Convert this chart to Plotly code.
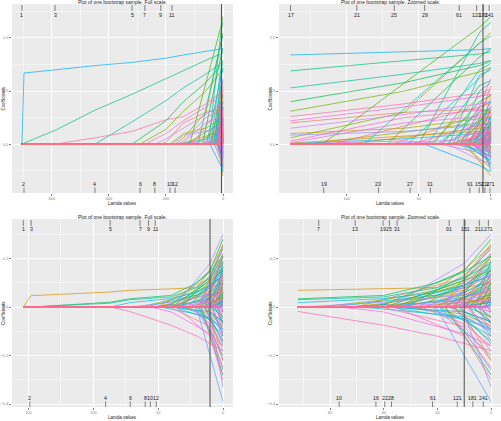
import math
import plotly.graph_objects as go

N_VARS = 280  # number of candidate coefficients (colour = variable index)

# ================= TOP ROW : bootstrap sample A =================
top_lambda_max = 705
top_zoom_cut = 139
top_lambda_min = 5.5
top_grid = [698, 589, 449, 319, 200, 139, 60, 8, 0]

top_long_entry = [705, 705, 589, 449, 319, 291, 274, 239, 218, 186, 179, 168, 160, 152, 147, 143, 141]
top_long_var = [170, 112, 262, 122, 100, 75, 240, 215, 5, 45, 195, 68, 250, 225, 20, 150, 230]
top_long_vals = [
    [0.67, 0.70, 0.74, 0.77, 0.81, 0.84, 0.87, 0.89, 0.90],
    [0.01, 0.13, 0.32, 0.47, 0.62, 0.69, 0.79, 0.85, 0.87],
    [0, 0, 0.06, 0.12, 0.23, 0.26, 0.38, 0.48, 0.52],
    [0, 0, 0, 0.21, 0.41, 0.53, 0.66, 0.76, 0.79],
    [0, 0, 0, 0, 0.22, 0.40, 0.58, 0.74, 0.78],
    [0, 0, 0, 0, 0.14, 0.31, 0.50, 0.68, 0.72],
    [0, 0, 0, 0, 0.10, 0.22, 0.35, 0.45, 0.47],
    [0, 0, 0, 0, 0.05, 0.15, 0.28, 0.38, 0.40],
    [0, 0, 0, 0, 0.02, 0.20, 0.30, 0.33, 0.31],
    [0, 0, 0, 0, 0, 0.10, 0.15, 0.24, 0.26],
    [0, 0, 0, 0, 0, 0.085, 0.12, 0.18, 0.20],
    [0, 0, 0, 0, 0, 0.06, 0.30, 0.95, 1.05],
    [0, 0, 0, 0, 0, 0.03, 0.25, 0.32, 0.30],
    [0, 0, 0, 0, 0, 0.015, 0.20, 0.26, 0.25],
    [0, 0, 0, 0, 0, 0.01, 0.08, 0.12, 0.10],
    [0, 0, 0, 0, 0, 0.005, 0.05, 0.10, 0.12],
    [0, 0, 0, 0, 0, 0.002, 0.03, -0.02, -0.05],
]

top_mid_knot = 8
top_mid_entry = [128, 117, 110, 100, 88, 80, 72, 68, 58, 56, 50, 46, 44, 42, 40,
                 38, 37, 35, 34, 33, 31, 30, 29, 28, 27, 26, 25, 24, 23, 22]
top_mid_v8 = [0.20, 1.10, 0.35, 0.15, 0.95, 0.05, 0.82, 0.28, 0.62, 0.18, 1.05, -0.20, 0.70, 0.45, 0.55,
              0.12, 0.30, -0.08, 0.40, 0.05, 0.22, -0.15, 0.65, 0.08, 0.35, -0.05, 0.18, 0.50, 0.10, 0.25]
top_mid_v0 = [0.24, 1.20, 0.38, 0.16, 1.02, 0.02, 0.90, 0.30, 0.72, 0.20, 1.15, -0.26, 0.76, 0.50, 0.60,
              0.10, 0.34, -0.12, 0.46, 0.06, 0.25, -0.18, 0.70, 0.08, 0.40, -0.08, 0.20, 0.58, 0.12, 0.30]
top_mid_var = [58, 85, 270, 30, 130, 205, 95, 12, 140, 258, 115, 180, 125, 40, 105,
               245, 135, 200, 90, 16, 155, 220, 145, 275, 110, 190, 60, 128, 235, 150]

top_short_entry = [21.6, 21.1, 20.9, 20.4, 19.8, 19.6, 19.3, 18.9, 18.7, 18.2, 17.8, 17.5, 17.1,
                   16.8, 16.4, 16.0, 15.9, 15.5, 15.2, 14.8, 14.5, 14.1, 13.8, 13.5, 13.0, 12.8,
                   12.4, 12.1, 11.9, 11.6, 11.3, 10.8, 10.5, 10.2, 9.9, 9.8, 9.3, 9.0, 8.9,
                   8.5, 8.3, 8.1, 7.7, 7.4, 7.2, 6.9, 6.7, 6.5, 6.3, 6.1, 5.9, 5.8,
                   5.5, 5.3, 5.2, 4.9, 4.7, 4.6, 4.4, 4.3, 4.1, 3.8, 3.7, 3.5, 3.2,
                   3.1, 2.9, 2.6, 2.5, 2.3, 2.1, 2.0, 1.8, 1.6, 1.5, 1.3, 1.1, 1.0,
                   0.9, 0.7, 0.6, 0.5]
top_short_v0 = [0.48, -0.22, 0.15, 0.35, 0.12, -0.11, -0.15, 0.21, 0.62, 0.05, 0.07, 0.28, -0.30,
                -0.17, 0.18, 0.33, 0.40, 0.01, -0.08, 0.22, -0.07, 0.55, 0.19, -0.12, 0.10, 0.11,
                0.32, -0.13, -0.20, 0.25, 0.15, 0.02, 0.04, 0.45, -0.21, -0.05, 0.26, 0.13, -0.18,
                0.08, 0.06, 0.36, -0.10, -0.08, 0.20, 0.04, 0.17, -0.25, -0.03, 0.14, 0.10, 0.30,
                -0.06, 0.22, 0.09, 0.24, -0.06, -0.14, 0.06, 0.05, 0.18, -0.03, 0.14, 0.12, -0.09,
                -0.05, 0.16, 0.03, 0.09, -0.12, 0.03, 0.07, 0.11, -0.03, -0.04, 0.05, 0.08, 0.06,
                -0.02, 0.04, 0.01, 0.02]
top_short_var = [3, 47, 260, 88, 133, 120, 177, 14, 222, 266, 190, 8, 52,
                 81, 97, 268, 141, 144, 186, 230, 237, 272, 101, 17, 61, 55,
                 106, 213, 152, 163, 195, 239, 28, 25, 251, 70, 114, 92, 159,
                 203, 172, 248, 34, 118, 78, 123, 209, 167, 31, 212, 278, 256,
                 42, 137, 87, 131, 192, 176, 221, 73, 265, 7, 242, 51, 96,
                 11, 142, 185, 158, 229, 226, 274, 22, 99, 66, 111, 156, 181,
                 199, 244, 44, 35]

# number-of-nonzero-coefficient labels (alternating top / bottom)
top_full_df = [1, 2, 3, 4, 5, 6, 7, 8, 9, 10, 11, 12]
top_full_lam = [705, 698, 589, 449, 319, 291, 274, 239, 218, 186, 179, 168]
top_zoom_df = [17, 19, 21, 23, 25, 27, 29, 31, 61, 91, 121, 151, 181, 211, 241, 271]
top_zoom_lam = [139, 116, 93, 78, 67, 56, 46, 42, 22, 14.6, 9.9, 8.1, 5.3, 4.2, 1.2, 0.6]

# ================= BOTTOM ROW : bootstrap sample B =================
bot_lambda_max = 154
bot_zoom_cut = 72
bot_lambda_min = 10
bot_grid = [148, 87, 72, 40, 20, 10, 0]

bot_long_entry = [154, 149, 148, 90.5, 87, 71.5, 64, 60, 57.4, 56, 52.3, 51.5]
bot_long_var = [28, 100, 120, 160, 255, 200, 70, 135, 10, 240, 50, 180]
bot_long_vals = [
    [0.047, 0.062, 0.069, 0.075, 0.08, 0.155, 0.25],
    [0, 0.020, 0.034, 0.048, 0.10, 0.145, 0.21],
    [0, 0.016, 0.030, 0.042, 0.08, 0.12, 0.18],
    [0, 0, 0.018, 0.035, 0.06, 0.09, 0.13],
    [0, 0, -0.018, -0.075, -0.12, -0.15, -0.18],
    [0, 0, 0, 0.02, 0.04, 0.05, 0.06],
    [0, 0, 0, 0.03, 0.07, 0.11, 0.15],
    [0, 0, 0, 0.025, 0.05, 0.09, 0.13],
    [0, 0, 0, 0.01, 0.02, 0.03, 0.02],
    [0, 0, 0, -0.02, -0.08, -0.11, -0.16],
    [0, 0, 0, 0.015, 0.05, 0.08, 0.10],
    [0, 0, 0, 0.01, -0.02, -0.05, -0.09],
]

bot_mid_knot = 10
bot_mid_entry = [50.6, 48, 45, 42.9, 41.8, 41, 40.2, 39.9, 39.6, 38.8, 38.2, 37.9, 37.5, 37.1,
                 36.5, 35.8, 35, 33.5, 32, 30.5, 29, 27.5, 26, 24.8, 23.5, 22.5, 21.8]
bot_mid_v10 = [0.12, -0.04, 0.09, 0.03, 0.15, -0.08, 0.06, 0.02, 0.11, -0.02, 0.07, 0.18, -0.05, 0.04,
               0.10, -0.12, 0.08, 0.05, 0.13, -0.03, 0.02, 0.09, -0.07, 0.06, 0.01, 0.04, -0.10]
bot_mid_v0 = [0.20, -0.10, 0.16, 0.05, 0.28, -0.22, 0.12, 0.03, 0.22, -0.06, 0.14, 0.30, -0.14, 0.08,
              0.19, -0.30, 0.15, 0.10, 0.24, -0.08, 0.04, 0.17, -0.16, 0.11, 0.0, 0.07, -0.26]
bot_mid_var = [12, 148, 66, 188, 104, 262, 30, 222, 94, 170, 44, 205, 140, 158,
               82, 250, 138, 56, 110, 60, 20, 126, 244, 164, 208, 74, 190]

bot_short_entry = [20.5, 20.1, 19.8, 19.4, 19.1, 18.7, 18.3, 17.9, 17.6, 17.2, 16.8, 16.5, 16.1,
                   15.7, 15.4, 15.0, 14.7, 14.3, 14.0, 13.7, 13.4, 13.1, 12.8, 12.4, 12.1, 11.8,
                   11.5, 11.2, 10.9, 10.6, 10.3, 10.0, 9.7, 9.4, 9.1, 8.8, 8.6, 8.3, 8.0,
                   7.8, 7.5, 7.2, 7.0, 6.8, 6.5, 6.2, 6.0, 5.8, 5.6, 5.3, 5.1, 4.7,
                   4.5, 4.3, 3.9, 3.7, 3.5, 3.1, 2.9, 2.7, 2.4, 2.2, 2.0, 1.7, 1.5,
                   1.4, 1.1, 0.8, 0.5]
bot_short_v0 = [-0.39, 0.14, 0.18, -0.20, -0.12, 0.26, 0.09, 0.07, 0.25, -0.28, -0.25, 0.17, 0.04,
                -0.10, -0.06, 0.11, 0.13, 0.22, -0.18, -0.15, 0.21, 0.05, 0.02, 0.15, -0.09, -0.22,
                0.11, 0.09, -0.33, 0.02, 0.06, -0.08, 0.16, 0.13, -0.04, 0.06, 0.08, -0.12, -0.14,
                0.10, 0.03, 0.04, 0.12, -0.06, -0.07, 0.08, 0.19, 0.14, -0.02, -0.04, 0.05, -0.11,
                0.05, 0.10, 0.01, -0.07, -0.05, 0.07, 0.03, -0.03, 0.04, 0.04, 0.06, -0.01, -0.02,
                0.03, -0.02, 0.02, 0.01]
bot_short_var = [186, 230, 220, 160, 122, 45, 98, 270, 210, 90, 272, 140, 48,
                 200, 84, 26, 262, 252, 266, 118, 88, 64, 176, 166, 130, 14,
                 246, 218, 196, 102, 24, 248, 108, 134, 96, 80, 62, 180, 228,
                 4, 6, 260, 274, 128, 150, 42, 124, 224, 212, 112, 36, 246,
                 154, 92, 178, 8, 218, 58, 238, 206, 146, 72, 76, 234, 198,
                 172, 264, 16, 192]

bot_full_df = [1, 2, 3, 4, 5, 6, 7, 8, 9, 10, 11, 12]
bot_full_lam = [154, 149, 148, 90.5, 87, 71.5, 64, 60, 57.4, 56, 52.3, 51.5]
bot_zoom_df = [7, 10, 13, 16, 19, 22, 25, 28, 31, 61, 91, 121, 151, 181, 211, 241, 271]
bot_zoom_lam = [64.2, 56.6, 50.6, 42.9, 40.2, 39.6, 37.9, 37.1, 35, 21.8, 15.6, 12.6, 9.7, 6.8, 4.4, 2.9, 1.0]

for a, b in [(top_long_entry, top_long_var), (top_long_entry, top_long_vals),
             (top_mid_entry, top_mid_v8), (top_mid_entry, top_mid_v0), (top_mid_entry, top_mid_var),
             (top_short_entry, top_short_v0), (top_short_entry, top_short_var),
             (bot_long_entry, bot_long_var), (bot_long_entry, bot_long_vals),
             (bot_mid_entry, bot_mid_v10), (bot_mid_entry, bot_mid_v0), (bot_mid_entry, bot_mid_var),
             (bot_short_entry, bot_short_v0), (bot_short_entry, bot_short_var)]:
    assert len(a) == len(b), (len(a), len(b))


# ---------------- colours (ggplot2 hue palette) ----------------
def hcl_hex(h, c=100.0, l=65.0):
    hr = math.radians(h)
    U, V = c * math.cos(hr), c * math.sin(hr)
    Xn, Yn, Zn = 95.047, 100.0, 108.883
    un = 4 * Xn / (Xn + 15 * Yn + 3 * Zn)
    vn = 9 * Yn / (Xn + 15 * Yn + 3 * Zn)
    Y = Yn * ((l + 16) / 116) ** 3
    up = U / (13 * l) + un
    vp = V / (13 * l) + vn
    X = Y * 9 * up / (4 * vp)
    Z = Y * (12 - 3 * up - 20 * vp) / (4 * vp)
    X, Y, Z = X / 100, Y / 100, Z / 100
    r = 3.2404542 * X - 1.5371385 * Y - 0.4985314 * Z
    g = -0.9692660 * X + 1.8760108 * Y + 0.0415560 * Z
    b = 0.0556434 * X - 0.2040259 * Y + 1.0572252 * Z

    def gam(t):
        t = max(0.0, min(1.0, t))
        return 12.92 * t if t <= 0.0031308 else 1.055 * t ** (1 / 2.4) - 0.055
    return '#%02x%02x%02x' % tuple(int(round(255 * gam(t))) for t in (r, g, b))


def var_color(v):
    return hcl_hex(15 + 360 * (v - 1) / N_VARS)


# ---------------- path construction ----------------
def build_paths(lmax, grid, long_entry, long_var, long_vals,
                mid_knot, mid_entry, mid_vmid, mid_v0, mid_var,
                short_entry, short_v0, short_var):
    paths = []
    for e, v, vals in zip(long_entry, long_var, long_vals):
        xs, ys = [lmax, e], [0, 0]
        for g, y in zip(grid, vals):
            if g < e:
                xs.append(g)
                ys.append(y)
        paths.append((v, e, xs, ys))
    for e, m, z, v in zip(mid_entry, mid_vmid, mid_v0, mid_var):
        paths.append((v, e, [lmax, e, mid_knot, 0], [0, 0, m, z]))
    for e, z, v in zip(short_entry, short_v0, short_var):
        paths.append((v, e, [lmax, e, 0], [0, 0, z]))
    paths.sort(key=lambda p: p[0])
    return paths


def zoom_path(entry, xs, ys, cut):
    if entry > cut:
        pts = [(x, y) for x, y in zip(xs, ys) if x <= cut]
        return [p[0] for p in pts], [p[1] for p in pts]
    return [cut] + xs[1:], ys[:]


top_paths = build_paths(top_lambda_max, top_grid, top_long_entry, top_long_var, top_long_vals,
                        top_mid_knot, top_mid_entry, top_mid_v8, top_mid_v0, top_mid_var,
                        top_short_entry, top_short_v0, top_short_var)
bot_paths = build_paths(bot_lambda_max, bot_grid, bot_long_entry, bot_long_var, bot_long_vals,
                        bot_mid_knot, bot_mid_entry, bot_mid_v10, bot_mid_v0, bot_mid_var,
                        bot_short_entry, bot_short_v0, bot_short_var)

fig = go.Figure()
LW = 0.7


def add_panel(paths, axn, cut=None):
    xa = 'x' if axn == 1 else 'x%d' % axn
    ya = 'y' if axn == 1 else 'y%d' % axn
    for v, e, xs, ys in paths:
        if cut is not None:
            xs, ys = zoom_path(e, xs, ys, cut)
        fig.add_trace(go.Scatter(x=xs, y=ys, mode='lines', xaxis=xa, yaxis=ya,
                                 line=dict(color=var_color(v), width=LW),
                                 hoverinfo='skip', showlegend=False))


add_panel(top_paths, 1)
add_panel(top_paths, 2, top_zoom_cut)
add_panel(bot_paths, 3)
add_panel(bot_paths, 4, bot_zoom_cut)

# ---------------- layout ----------------
W, H = 501, 421
PX = lambda x: x / W
PY = lambda y: 1 - y / H

panels = {
    1: dict(x=(12, 233), y=(4, 193), xr=[740, -35], xd=200, xm=100, yr=[-0.46, 1.32], yd=0.5, ym=0.25),
    2: dict(x=(279, 501), y=(4, 193), xr=[147, -7], xd=50, xm=25, yr=[-0.46, 1.32], yd=0.5, ym=0.25),
    3: dict(x=(12, 233), y=(219, 407), xr=[162.7, -7.7], xd=50, xm=25, yr=[-0.412, 0.363], yd=0.2, ym=0.1),
    4: dict(x=(279, 501), y=(219, 407), xr=[79, -3.7], xd=20, xm=10, yr=[-0.412, 0.363], yd=0.2, ym=0.1),
}

BG = '#EBEBEB'
TICKFONT = dict(family='Liberation Sans, Arial, sans-serif', size=4, color='#7F7F7F')
layout = dict(width=W, height=H, margin=dict(l=0, r=0, t=0, b=0),
              paper_bgcolor='white', plot_bgcolor=BG, showlegend=False)

for n, p in panels.items():
    xk = 'xaxis' if n == 1 else 'xaxis%d' % n
    yk = 'yaxis' if n == 1 else 'yaxis%d' % n
    layout[xk] = dict(domain=[PX(p['x'][0]), PX(p['x'][1])], range=p['xr'],
                      anchor='y' if n == 1 else 'y%d' % n,
                      tick0=0, dtick=p['xd'], showgrid=True, gridcolor='white', gridwidth=0.8,
                      minor=dict(dtick=p['xm'], tick0=0, showgrid=True, gridcolor='#F4F4F4', gridwidth=0.5),
                      zeroline=False, ticks='outside', ticklen=1.5, tickcolor='#7F7F7F', tickwidth=0.5,
                      tickfont=TICKFONT, showline=False, fixedrange=True)
    layout[yk] = dict(domain=[PY(p['y'][1]), PY(p['y'][0])], range=p['yr'],
                      anchor='x' if n == 1 else 'x%d' % n,
                      tick0=0, dtick=p['yd'], tickformat='.1f', showgrid=True, gridcolor='white', gridwidth=0.8,
                      minor=dict(dtick=p['ym'], tick0=0, showgrid=True, gridcolor='#F4F4F4', gridwidth=0.5),
                      zeroline=False, ticks='outside', ticklen=2, tickcolor='#7F7F7F', tickwidth=0.5,
                      tickfont=TICKFONT, showline=False, fixedrange=True)

fig.update_layout(**layout)

shapes = []
annotations = []
TXT = dict(family='Liberation Sans, Arial, sans-serif', color='#1A1A1A')

titles = {1: 'Plot of one bootstrap sample. Full scale.', 2: 'Plot of one bootstrap sample. Zoomed scale.',
          3: 'Plot of one bootstrap sample. Full scale.', 4: 'Plot of one bootstrap sample. Zoomed scale.'}

for n, p in panels.items():
    cx = PX((p['x'][0] + p['x'][1]) / 2)
    annotations.append(dict(text=titles[n], x=cx, y=PY(p['y'][0] - 2.5), xref='paper', yref='paper',
                            showarrow=False, xanchor='center', yanchor='middle', font=dict(TXT, size=5)))
    annotations.append(dict(text='Lamda values', x=cx, y=PY(p['y'][1] + 10), xref='paper', yref='paper',
                            showarrow=False, xanchor='center', yanchor='middle', font=dict(TXT, size=4.5)))
    tx = 3 if p['x'][0] < 100 else 270
    annotations.append(dict(text='Coefficients', x=PX(tx), y=PY((p['y'][0] + p['y'][1]) / 2),
                            xref='paper', yref='paper', textangle=-90, showarrow=False,
                            xanchor='center', yanchor='middle', font=dict(TXT, size=4.5)))

# chosen lambda (vertical line)
for n, lam in [(1, top_lambda_min), (2, top_lambda_min), (3, bot_lambda_min), (4, bot_lambda_min)]:
    xr = 'x' if n == 1 else 'x%d' % n
    yr = 'y domain' if n == 1 else 'y%d domain' % n
    shapes.append(dict(type='line', xref=xr, yref=yr, x0=lam, x1=lam, y0=0, y1=1,
                       line=dict(color='#4D4D4D', width=1)))

# df labels
for n, dfs, lams in [(1, top_full_df, top_full_lam), (2, top_zoom_df, top_zoom_lam),
                     (3, bot_full_df, bot_full_lam), (4, bot_zoom_df, bot_zoom_lam)]:
    xr = 'x' if n == 1 else 'x%d' % n
    yr = 'y domain' if n == 1 else 'y%d domain' % n
    ph = panels[n]['y'][1] - panels[n]['y'][0]
    for i, (d, lam) in enumerate(zip(dfs, lams)):
        if i % 2 == 0:
            y0, y1, ty = 1 - 1 / ph, 1 - 7 / ph, 1 - 10.5 / ph
        else:
            y0, y1, ty = 0, 5.5 / ph, 9 / ph
        shapes.append(dict(type='line', xref=xr, yref=yr, x0=lam, x1=lam, y0=y0, y1=y1,
                           line=dict(color='#333333', width=0.6)))
        annotations.append(dict(text=str(d), x=lam, y=ty, xref=xr, yref=yr, showarrow=False,
                                xanchor='center', yanchor='middle', font=dict(TXT, size=5.2)))

fig.update_layout(shapes=shapes, annotations=annotations)
fig.write_html('out.html')
